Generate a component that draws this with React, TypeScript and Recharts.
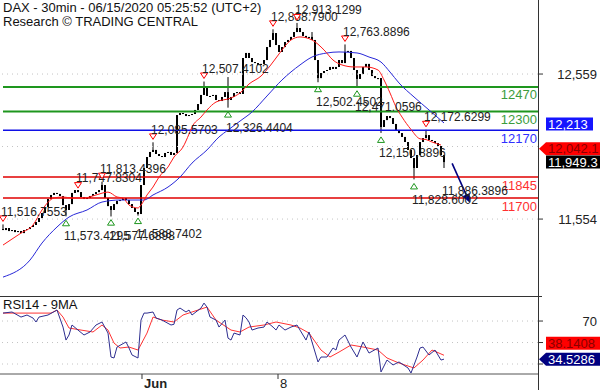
import React from 'react';
import {
  ComposedChart,
  Bar,
  Line,
  XAxis,
  YAxis,
  ReferenceLine,
  ReferenceDot,
} from 'recharts';

const FONT = '"Liberation Sans", Arial, sans-serif';

// 30-min candles, one per index (closes)
const firstOpen = 11485;
const candleCloses = [
  11478, 11492, 11471, 11478, 11464, 11471, 11457, 11478, 11485, 11499,
  11513, 11534, 11561, 11596, 11638, 11693, 11721, 11735, 11728, 11714,
  11651, 11617, 11658, 11735, 11755, 11741, 11707, 11693, 11700, 11714,
  11728, 11741, 11755, 11790, 11700, 11644, 11617, 11658, 11679, 11686,
  11700, 11686, 11658, 11631, 11603, 11589, 11790, 11908, 11984, 12019,
  12033, 12005, 11991, 11984, 12012, 12019, 11998, 12012, 12275, 12289,
  12282, 12268, 12275, 12282, 12310, 12351, 12414, 12462, 12407, 12407,
  12414, 12379, 12372, 12400, 12434, 12379, 12400, 12427, 12434, 12421,
  12670, 12705, 12670, 12642, 12635, 12622, 12629, 12656, 12746, 12795,
  12843, 12760, 12712, 12746, 12781, 12795, 12816, 12850, 12878, 12850,
  12823, 12809, 12816, 12795, 12656, 12531, 12566, 12580, 12587, 12608,
  12594, 12608, 12656, 12635, 12712, 12719, 12670, 12587, 12525, 12559,
  12608, 12629, 12587, 12545, 12531, 12531, 12192, 12240, 12268, 12254,
  12213, 12171, 12150, 12123, 12088, 12033, 11977, 11908, 11998, 12088,
  12115, 12136, 12102, 12095, 12081, 12060, 11998, 11949,
];
// visible wick extremes [index, price]
const wickHighs = [
  [0, 11517], [25, 11748], [33, 11813], [50, 12086], [67, 12507], [75, 12538],
  [90, 12869], [98, 12913], [103, 12850], [114, 12764], [141, 12173],
];
const wickLows = [
  [21, 11573], [36, 11572], [45, 11578], [75, 12326], [105, 12502],
  [118, 12471], [126, 12151], [137, 11829], [147, 11908],
];

// moving averages (red = fast, blue = slow)
const maFastAt = [0, 6, 10, 13, 17, 20, 23, 27, 31, 35, 38, 40, 42, 45, 46, 48, 50, 52, 55, 57, 60, 62, 63, 66, 68, 71, 76, 79, 82, 86, 89, 92, 96, 99, 103, 107, 110, 113, 117, 121, 125, 127, 129, 131, 133, 136, 139, 141, 143, 146];
const maFast = [11374, 11457, 11513, 11617, 11700, 11707, 11700, 11700, 11721, 11741, 11707, 11700, 11651, 11631, 11651, 11721, 11776, 11845, 11915, 11984, 12053, 12143, 12192, 12261, 12310, 12365, 12393, 12428, 12490, 12545, 12615, 12698, 12795, 12816, 12795, 12726, 12656, 12622, 12608, 12608, 12587, 12518, 12428, 12331, 12261, 12175, 12110, 12105, 12088, 12067];
const maSlowAt = [0, 9, 13, 18, 22, 28, 33, 39, 43, 47, 50, 55, 59, 63, 68, 72, 75, 79, 83, 88, 93, 99, 103, 108, 112, 118, 122, 126, 129, 132, 137, 142, 147];
const maSlow = [11152, 11270, 11388, 11499, 11568, 11617, 11672, 11686, 11686, 11686, 11721, 11776, 11845, 11942, 12033, 12123, 12171, 12233, 12296, 12407, 12518, 12622, 12677, 12705, 12712, 12705, 12677, 12642, 12573, 12497, 12400, 12310, 12220];

// support / resistance levels
const levels = [12470, 12300, 12170, 11845, 11700];
const levelColors = ['#1e961e', '#1e961e', '#1010e6', '#e00000', '#e00000'];
const levelTextColors = ['#3c9c3c', '#3c9c3c', '#3030ff', '#ff3030', '#ff3030'];

// pivot annotations
const peakIdx = [0, 25, 33, 50, 67, 90, 98, 114, 141];
const peakPrice = [11516.7553, 11747.8304, 11813.4396, 12085.5703, 12507.4102, 12868.79, 12913.1299, 12763.8896, 12172.6299];
const troughIdx = [21, 36, 45, 75, 105, 118, 126, 137];
const troughPrice = [11573.4295, 11577.6898, 11588.7402, 12326.4404, 12502.4502, 12471.0596, 12150.8896, 11828.6002];
const targetIdx = 147;
const targetPrice = 11886.3896;
const arrowStart = [149.7, 11940];
const arrowEnd = [155.6, 11667];

// right-hand value boxes
const blueMaLast = 12213;
const lastPriceBox = 12042.1;
const lastClose = 11949.3;
const priceTicks = [11554, 12559];
const gridValues = [11554, 12057, 12559];

// RSI panel
const rsiAt = [0, 3, 6, 8, 10, 11, 12, 15, 18, 20, 21, 22, 23, 25, 27, 29, 31, 33, 35, 36, 37, 38, 41, 42, 43, 45, 46, 47, 48, 50, 51, 53, 56, 57, 58, 59, 61, 62, 63, 66, 67, 68, 69, 71, 72, 74, 75, 76, 77, 79, 80, 81, 82, 83, 85, 87, 88, 90, 91, 92, 94, 96, 98, 99, 101, 102, 105, 106, 108, 110, 111, 112, 114, 116, 118, 120, 122, 125, 126, 128, 130, 132, 135, 136, 138, 139, 140, 142, 144, 146, 147];
const rsi = [77.4, 78.4, 73.7, 75.6, 72.8, 69.1, 73.7, 75.6, 80.2, 64.4, 52.3, 57.0, 66.3, 61.6, 57.0, 59.8, 66.3, 69.1, 58.8, 36.5, 35.6, 45.8, 50.5, 44.9, 38.4, 35.6, 70.9, 77.4, 77.4, 78.4, 72.8, 70.9, 66.3, 67.0, 80.2, 82.1, 78.4, 80.2, 75.6, 82.1, 86.7, 83.0, 73.7, 70.9, 64.4, 70.9, 54.1, 52.3, 58.8, 57.0, 75.6, 73.0, 69.1, 61.6, 63.5, 64.4, 69.1, 64.4, 61.6, 66.3, 61.6, 64.4, 66.3, 61.6, 52.3, 59.8, 31.9, 36.5, 36.5, 44.9, 43.0, 52.3, 57.0, 45.8, 36.5, 50.5, 40.2, 44.9, 22.6, 33.7, 29.1, 31.9, 26.3, 21.6, 36.5, 44.9, 45.8, 38.4, 43.0, 33.7, 34.5286];
const rsiMaAt = [0, 16, 18, 20, 22, 26, 30, 33, 35, 37, 39, 42, 45, 48, 50, 53, 57, 60, 63, 68, 71, 76, 79, 82, 87, 91, 96, 99, 102, 106, 109, 112, 116, 120, 125, 128, 132, 137, 140, 143, 147];
const rsiMa = [77.4, 77.4, 80.2, 73.7, 63.5, 61.6, 59.8, 66.3, 61.6, 49.5, 44.9, 45.8, 43.0, 58.8, 73.7, 70.9, 69.1, 75.6, 78.4, 83.0, 70.9, 61.6, 59.8, 64.4, 66.3, 69.1, 66.3, 63.5, 58.8, 43.0, 36.5, 41.1, 47.7, 45.8, 43.0, 35.6, 30.9, 26.3, 33.7, 43.0, 38.1408];
const rsiTicks = [30, 50, 70];
const rsiTickLabels = ['', '', '70']; // 30 and 50 sit under the value boxes

// x axis date ticks (candle index)
const dateTickAt = [46.33, 91.67];
const dateTickLabel = ['Jun', '8'];

const X_DOMAIN = [-1, 178.33];

const fmt = (v: number, d: number) =>
  v.toLocaleString('en-US', { minimumFractionDigits: d, maximumFractionDigits: d });

const priceRows = candleCloses.map((close, i) => {
  const open = i === 0 ? firstOpen : candleCloses[i - 1];
  let high = Math.max(open, close);
  let low = Math.min(open, close);
  wickHighs.forEach(([k, v]) => { if (k === i) high = Math.max(high, v); });
  wickLows.forEach(([k, v]) => { if (k === i) low = Math.min(low, v); });
  const row: any = { i, open, close, high, low, range: [low, high] };
  const f = maFastAt.indexOf(i);
  if (f >= 0) row.maFast = maFast[f];
  const s = maSlowAt.indexOf(i);
  if (s >= 0) row.maSlow = maSlow[s];
  return row;
});

const rsiRows = candleCloses.map((_, i) => {
  const row: any = { i };
  const a = rsiAt.indexOf(i);
  if (a >= 0) row.rsi = rsi[a];
  const b = rsiMaAt.indexOf(i);
  if (b >= 0) row.rsiMa = rsiMa[b];
  return row;
});

const Candle = (props: any) => {
  const { x, y, width, height, payload } = props;
  if (x == null || payload == null) return null;
  const { open, close, high, low } = payload;
  const top = Math.min(y, y + height);
  const h = Math.abs(height);
  const span = high - low;
  const toY = (v: number) => (span > 0 ? top + ((high - v) / span) * h : top);
  const cx = x + width / 2;
  const bTop = toY(Math.max(open, close));
  const bBot = toY(Math.min(open, close));
  return (
    <g>
      <line x1={cx} x2={cx} y1={top} y2={top + Math.max(h, 1)} stroke="#000" strokeWidth={1} />
      <rect x={cx - 1} y={bTop} width={2} height={Math.max(bBot - bTop, 1)} fill="#000" />
    </g>
  );
};

const peakShape = (label: string) => (p: any) => {
  const { cx, cy } = p;
  const ty = cy - 6;
  return (
    <g>
      <polygon
        points={`${cx - 3.5},${ty - 2.5} ${cx + 3.5},${ty - 2.5} ${cx},${ty + 3}`}
        fill="#fff"
        stroke="#ff0000"
        strokeWidth={1}
      />
      <text x={cx - 2} y={cy - 13} dy="0.35em" fontSize={12} fontFamily={FONT} fill="#222">
        {label}
      </text>
    </g>
  );
};

const troughShape = (label: string, withMark = true) => (p: any) => {
  const { cx, cy } = p;
  const ty = cy + 7;
  return (
    <g>
      {withMark && (
        <polygon
          points={`${cx - 3.5},${ty + 2.5} ${cx + 3.5},${ty + 2.5} ${cx},${ty - 3}`}
          fill="#fff"
          stroke="#1e961e"
          strokeWidth={1}
        />
      )}
      <text x={cx - 2} y={cy + 20} dy="0.35em" fontSize={12} fontFamily={FONT} fill="#222">
        {label}
      </text>
    </g>
  );
};

const ArrowShape = (p: any) => {
  const { x1, y1, x2, y2 } = p;
  if (x1 == null) return null;
  const ang = Math.atan2(y2 - y1, x2 - x1);
  const len = 9;
  const hw = 4;
  const bx = x2 - len * Math.cos(ang);
  const by = y2 - len * Math.sin(ang);
  const nx = -Math.sin(ang) * hw;
  const ny = Math.cos(ang) * hw;
  return (
    <g>
      <line x1={x1} y1={y1} x2={bx} y2={by} stroke="#000080" strokeWidth={1.6} />
      <polygon points={`${x2},${y2} ${bx + nx},${by + ny} ${bx - nx},${by - ny}`} fill="#000080" />
    </g>
  );
};

const levelLabel = (text: string, color: string) => (p: any) => {
  const vb = p.viewBox || {};
  return (
    <text x={vb.x + vb.width - 1} y={vb.y + 8} dy="0.35em" textAnchor="end" fontSize={13} fontFamily={FONT} fill={color}>
      {text}
    </text>
  );
};

// value box drawn to the right of the plot
const valueBox = (text: string, bg: string, fg: string, arrow: boolean, shift = 0, boxW = 54) => (p: any) => {
  const vb = p.viewBox || {};
  const left = vb.x + vb.width;
  const cy = vb.y + shift;
  const top = cy - 6.5;
  const bot = cy + 6.5;
  const bx = left + 8;
  const right = bx + boxW;
  const points = arrow
    ? `${left + 1},${cy} ${bx},${top} ${right},${top} ${right},${bot} ${bx},${bot}`
    : `${bx},${top} ${right},${top} ${right},${bot} ${bx},${bot}`;
  return (
    <g>
      <polygon points={points} fill={bg} />
      <text x={bx + 2} y={cy} dy="0.36em" fontSize={13} fontFamily={FONT} fill={fg}>
        {text}
      </text>
    </g>
  );
};

const PriceTick = (p: any) => (
  <text x={p.x + 54} y={p.y} dy="0.35em" textAnchor="end" fontSize={13} fontFamily={FONT} fill="#222">
    {fmt(p.payload.value, 0)}
  </text>
);

const RsiTick = (p: any) => {
  const k = rsiTicks.indexOf(p.payload.value);
  return (
    <text x={p.x + 54} y={p.y} dy="0.35em" textAnchor="end" fontSize={13} fontFamily={FONT} fill="#222">
      {k >= 0 ? rsiTickLabels[k] : ''}
    </text>
  );
};

const DateTick = (p: any) => {
  const k = dateTickAt.indexOf(p.payload.value);
  const label = k >= 0 ? dateTickLabel[k] : '';
  return (
    <text x={p.x + 2} y={p.y} dy="0.71em" fontSize={13} fontFamily={FONT} fill="#222" fontWeight={label === 'Jun' ? 'bold' : 'normal'}>
      {label}
    </text>
  );
};

export default function App() {
  return (
    <div
      style={{
        position: 'fixed',
        left: 0,
        top: 0,
        width: 600,
        height: 390,
        background: '#fff',
        overflow: 'hidden',
        fontFamily: FONT,
      }}
    >
      <div style={{ position: 'absolute', left: 0, top: 0 }}>
        <ComposedChart width={600} height={296} data={priceRows} margin={{ top: 0, right: 0, bottom: 0, left: 0 }}>
          <XAxis type="number" dataKey="i" domain={X_DOMAIN} allowDataOverflow hide />
          <YAxis
            orientation="right"
            width={62}
            domain={[11021, 13072]}
            allowDataOverflow
            ticks={priceTicks}
            interval={0}
            axisLine={false}
            tickLine={{ stroke: '#333' }}
            tickSize={5}
            tickMargin={0}
            tick={<PriceTick />}
          />
          {gridValues.map((v) => (
            <ReferenceLine key={'g' + v} y={v} stroke="#c4c4c4" strokeDasharray="1 4" />
          ))}
          {levels.map((v, k) => (
            <ReferenceLine
              key={'l' + v}
              segment={[{ x: 0, y: v }, { x: X_DOMAIN[1], y: v }]}
              stroke={levelColors[k]}
              strokeWidth={k < 2 ? 2 : 1.5}
              label={levelLabel(String(v), levelTextColors[k])}
            />
          ))}
          <Line dataKey="maSlow" stroke="#2828d8" strokeWidth={1} dot={false} activeDot={false} connectNulls type="monotone" isAnimationActive={false} />
          <Line dataKey="maFast" stroke="#ff1a1a" strokeWidth={1} dot={false} activeDot={false} connectNulls type="monotone" isAnimationActive={false} />
          <Bar dataKey="range" barSize={3} shape={<Candle />} isAnimationActive={false} />
          {peakIdx.map((ix, k) => (
            <ReferenceDot key={'p' + k} x={ix} y={peakPrice[k]} r={0} shape={peakShape(fmt(peakPrice[k], 4))} />
          ))}
          {troughIdx.map((ix, k) => (
            <ReferenceDot key={'t' + k} x={ix} y={troughPrice[k]} r={0} shape={troughShape(fmt(troughPrice[k], 4))} />
          ))}
          <ReferenceDot x={targetIdx} y={targetPrice} r={0} shape={troughShape(fmt(targetPrice, 4), false)} />
          <ReferenceLine
            segment={[{ x: arrowStart[0], y: arrowStart[1] }, { x: arrowEnd[0], y: arrowEnd[1] }]}
            stroke="#000080"
            shape={ArrowShape}
          />
          <ReferenceLine y={blueMaLast} stroke="none" label={valueBox(fmt(blueMaLast, 0), '#1515ff', '#fff', false, 0, 47)} />
          <ReferenceLine y={lastPriceBox} stroke="none" label={valueBox(fmt(lastPriceBox, 1), '#ff0000', '#8a0000', true)} />
          <ReferenceLine y={lastClose} stroke="none" label={valueBox(fmt(lastClose, 1), '#000', '#fff', false)} />
        </ComposedChart>
      </div>

      <div style={{ position: 'absolute', left: 0, top: 296 }}>
        <ComposedChart width={600} height={94} data={rsiRows} margin={{ top: 0, right: 0, bottom: 0, left: 0 }}>
          <XAxis
            type="number"
            dataKey="i"
            domain={X_DOMAIN}
            allowDataOverflow
            ticks={dateTickAt}
            interval={0}
            height={16}
            axisLine={{ stroke: '#555' }}
            tickLine={{ stroke: '#333' }}
            tickSize={5}
            tickMargin={0}
            tick={<DateTick />}
          />
          <YAxis
            orientation="right"
            width={62}
            domain={[20.7, 93.3]}
            allowDataOverflow
            ticks={rsiTicks}
            interval={0}
            axisLine={false}
            tickLine={{ stroke: '#333' }}
            tickSize={5}
            tickMargin={0}
            tick={<RsiTick />}
          />
          {rsiTicks.map((v) => (
            <ReferenceLine key={'rg' + v} y={v} stroke="#c4c4c4" strokeDasharray="1 4" />
          ))}
          <Line dataKey="rsiMa" stroke="#ff3333" strokeWidth={1} dot={false} activeDot={false} connectNulls type="linear" isAnimationActive={false} />
          <Line dataKey="rsi" stroke="#2e2e90" strokeWidth={1} dot={false} activeDot={false} connectNulls type="linear" isAnimationActive={false} />
          <ReferenceLine y={rsiMa[rsiMa.length - 1]} stroke="none" label={valueBox(fmt(rsiMa[rsiMa.length - 1], 4), '#ff0000', '#8a0000', false, -12)} />
          <ReferenceLine y={rsi[rsi.length - 1]} stroke="none" label={valueBox(fmt(rsi[rsi.length - 1], 4), '#000080', '#fff', true)} />
        </ComposedChart>
      </div>

      {/* frame lines */}
      <div style={{ position: 'absolute', left: 538, top: 0, width: 1, height: 390, background: '#333' }} />
      <div style={{ position: 'absolute', left: 0, top: 296, width: 542, height: 1, background: '#333' }} />

      <div style={{ position: 'absolute', left: 3, top: 1, fontSize: 13, lineHeight: '13.5px', color: '#111' }}>
        <div>DAX - 30min - 06/15/2020 05:25:52 (UTC+2)</div>
        <div>Research © TRADING CENTRAL</div>
      </div>
      <div style={{ position: 'absolute', left: 3, top: 298, fontSize: 13, lineHeight: '14px', color: '#111' }}>
        RSI14 - 9MA
      </div>
    </div>
  );
}
